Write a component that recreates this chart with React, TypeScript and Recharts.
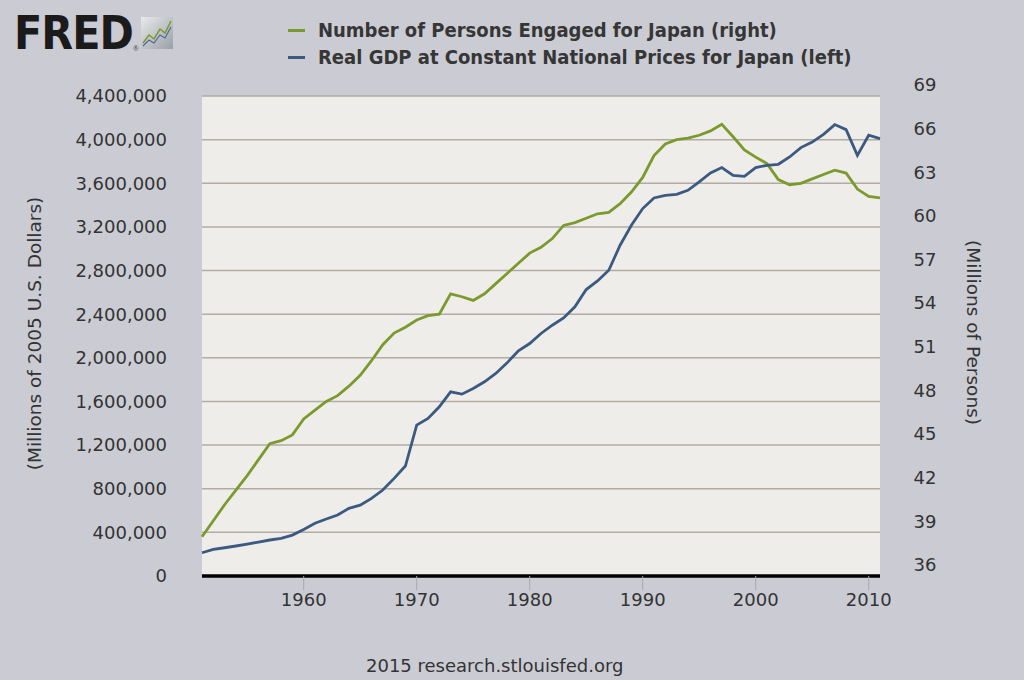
import { CartesianGrid, Line, LineChart, XAxis, YAxis } from "recharts"

const years = [
  1951, 1952, 1953, 1954, 1955, 1956, 1957, 1958, 1959, 1960,
  1961, 1962, 1963, 1964, 1965, 1966, 1967, 1968, 1969, 1970,
  1971, 1972, 1973, 1974, 1975, 1976, 1977, 1978, 1979, 1980,
  1981, 1982, 1983, 1984, 1985, 1986, 1987, 1988, 1989, 1990,
  1991, 1992, 1993, 1994, 1995, 1996, 1997, 1998, 1999, 2000,
  2001, 2002, 2003, 2004, 2005, 2006, 2007, 2008, 2009, 2010,
  2011,
]

// millions of persons (right axis)
const persons = [
  38.7, 39.8, 40.9, 41.9, 42.9, 44.0, 45.1, 45.3, 45.7, 46.8,
  47.4, 48.0, 48.4, 49.05, 49.8, 50.8, 51.9, 52.7, 53.1, 53.6,
  53.9, 54.0, 55.4, 55.2, 54.95, 55.4, 56.1, 56.8, 57.5, 58.2,
  58.6, 59.2, 60.1, 60.3, 60.6, 60.9, 61.0, 61.6, 62.4, 63.4,
  64.9, 65.7, 66.0, 66.1, 66.3, 66.6, 67.05, 66.2, 65.3, 64.8,
  64.35, 63.25, 62.9, 63.0, 63.3, 63.6, 63.9, 63.7, 62.6, 62.1,
  62.0,
]

// millions of 2005 US dollars (left axis)
const gdp = [
  213000, 244000, 259000, 275000, 293000, 311000, 330000, 345000, 375000, 427000,
  483000, 522000, 559000, 620000, 650000, 712000, 788000, 895000, 1008000, 1383000,
  1444000, 1551000, 1688000, 1667000, 1719000, 1780000, 1857000, 1954000, 2064000, 2131000,
  2223000, 2299000, 2366000, 2467000, 2626000, 2705000, 2803000, 3032000, 3215000, 3368000,
  3465000, 3490000, 3499000, 3536000, 3612000, 3694000, 3744000, 3673000, 3664000, 3744000,
  3765000, 3774000, 3841000, 3927000, 3978000, 4049000, 4138000, 4092000, 3856000, 4040000,
  4009000,
]

const leftTicks = [0, 400000, 800000, 1200000, 1600000, 2000000, 2400000, 2800000, 3200000, 3600000, 4000000, 4400000]
const rightTicks = [36, 39, 42, 45, 48, 51, 54, 57, 60, 63, 66, 69]
const yearTicks = [1960, 1970, 1980, 1990, 2000, 2010]

const seriesNames = [
  "Number of Persons Engaged for Japan (right)",
  "Real GDP at Constant National Prices for Japan (left)",
]

const data = years.map((year, i) => ({ year, persons: persons[i], gdp: gdp[i] }))

const GREEN = "#7b9a2e"
const BLUE = "#3c5a80"
const NARROW = '"Liberation Sans Narrow", "DejaVu Sans Condensed", "Arial Narrow", sans-serif'
const WIDE = '"DejaVu Sans", Verdana, sans-serif'

function LegendBox() {
  const colors = [GREEN, BLUE]
  return (
    <div style={{ fontFamily: NARROW, fontWeight: 700, fontSize: 20, color: "#363636", lineHeight: "27px" }}>
      {seriesNames.map((name, i) => (
        <div key={name} style={{ display: "flex", alignItems: "center" }}>
          <span style={{ display: "inline-block", width: 17, height: 3, background: colors[i], marginRight: 13 }} />
          {name}
        </div>
      ))}
    </div>
  )
}

function RightTick(props: any) {
  const { x, y, payload } = props
  return (
    <text x={x} y={y - 11} dy="0.35em" textAnchor="middle" fill="#333" fontSize={18} fontFamily={WIDE}>
      {payload.value}
    </text>
  )
}

export default function App() {
  return (
    <div style={{ position: "absolute", left: 0, top: 0, width: 1024, height: 680, background: "#cbccd3", overflow: "hidden" }}>
      <div style={{ position: "absolute", left: 14, top: 6, display: "flex", alignItems: "flex-start" }}>
        <span style={{ fontFamily: NARROW, fontWeight: 900, fontSize: 46, color: "#1b1b1b", letterSpacing: -1 }}>FRED</span>
        <span style={{ fontSize: 8, marginTop: 38, color: "#333" }}>®</span>
        <svg width={32} height={32} style={{ marginTop: 11, marginLeft: 2 }}>
          <defs>
            <linearGradient id="fg" x1="0" y1="0" x2="1" y2="1">
              <stop offset="0" stopColor="#e9e9e9" />
              <stop offset="1" stopColor="#9aa0a8" />
            </linearGradient>
          </defs>
          <rect x={0} y={0} width={32} height={32} fill="url(#fg)" />
          <polyline points="2,26 8,18 13,22 19,12 24,16 30,4" fill="none" stroke="#7b9a2e" strokeWidth={1.5} />
          <polyline points="2,29 8,23 13,26 19,18 24,21 30,10" fill="none" stroke="#4a6a90" strokeWidth={1.2} />
        </svg>
      </div>
      <div style={{ position: "absolute", left: 288, top: 17 }}>
        <LegendBox />
      </div>
      <LineChart width={1024} height={680} data={data} margin={{ top: 96, right: 0, left: 0, bottom: 0 }}>
        <CartesianGrid yAxisId="left" vertical={false} fill="#efedea" stroke="#b2aaa4" strokeWidth={1.5} />
        <XAxis
          dataKey="year"
          type="number"
          domain={[1951, 2011]}
          ticks={yearTicks}
          height={104}
          axisLine={{ stroke: "#000", strokeWidth: 3.5 }}
          tickLine={{ stroke: "#a3aab5", strokeWidth: 1 }}
          tickSize={14}
          tickMargin={3}
          tick={{ fill: "#333", fontSize: 18, fontFamily: WIDE }}
        />
        <YAxis
          yAxisId="left"
          orientation="left"
          width={202}
          domain={[0, 4400000]}
          ticks={leftTicks}
          allowDataOverflow
          axisLine={false}
          tickLine={false}
          tickSize={0}
          tickMargin={35}
          tickFormatter={(v: number) => v.toLocaleString("en-US")}
          tick={{ fill: "#333", fontSize: 18, fontFamily: WIDE }}
          label={{
            content: (p: any) => {
              const vb = p.viewBox
              const cx = vb.x + 35
              const cy = vb.y + vb.height / 2 - 2.5
              return (
                <text x={cx} y={cy} transform={`rotate(-90 ${cx} ${cy})`} textAnchor="middle" dy="0.35em" fill="#333" fontSize={18.5} fontFamily={WIDE}>
                  (Millions of 2005 U.S. Dollars)
                </text>
              )
            },
          }}
        />
        <YAxis
          yAxisId="right"
          orientation="right"
          width={144}
          domain={[36, 69]}
          ticks={rightTicks}
          allowDataOverflow
          axisLine={false}
          tickLine={false}
          tickSize={0}
          tickMargin={45}
          tick={<RightTick />}
          label={{
            content: (p: any) => {
              const vb = p.viewBox
              const cx = vb.x + 93
              const cy = vb.y + vb.height / 2 - 3.5
              return (
                <text x={cx} y={cy} transform={`rotate(90 ${cx} ${cy})`} textAnchor="middle" dy="0.35em" fill="#333" fontSize={18.5} fontFamily={WIDE}>
                  (Millions of Persons)
                </text>
              )
            },
          }}
        />
        <Line yAxisId="right" dataKey="persons" stroke={GREEN} strokeWidth={2.8} dot={false} isAnimationActive={false} />
        <Line yAxisId="left" dataKey="gdp" stroke={BLUE} strokeWidth={2.8} dot={false} isAnimationActive={false} />
      </LineChart>
      <div
        style={{
          position: "absolute",
          left: 366,
          top: 656,
          fontFamily: WIDE,
          fontSize: 18,
          lineHeight: "20px",
          color: "#333",
          whiteSpace: "nowrap",
        }}
      >
        2015 research.stlouisfed.org
      </div>
    </div>
  )
}
